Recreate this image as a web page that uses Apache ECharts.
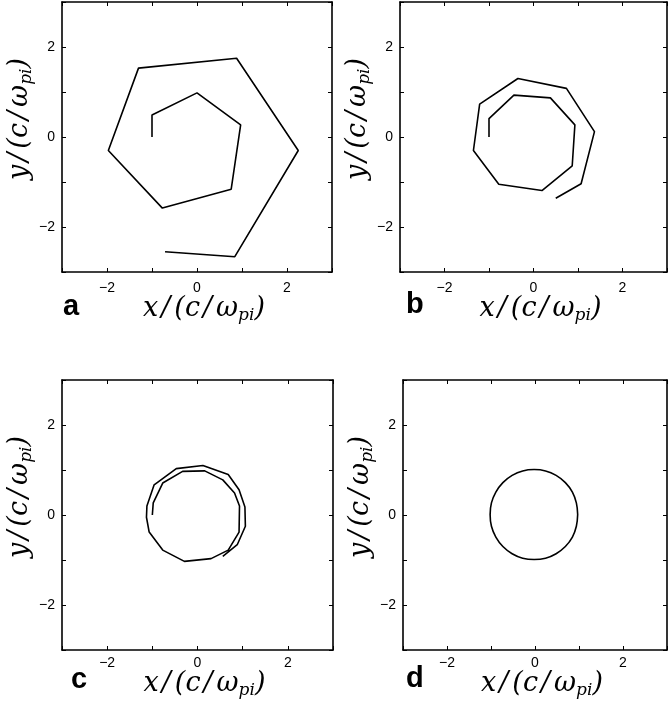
<!DOCTYPE html>
<html>
<head>
<meta charset="utf-8">
<script src="https://cdn.jsdelivr.net/npm/echarts@6/dist/echarts.min.js"></script>
<style>
  html, body { margin: 0; padding: 0; background: #fff; }
  #fig { width: 670px; height: 704px; }
</style>
</head>
<body>
<div id="fig"></div>
<script>
// trajectories, in units of c/omega_pi
var aX = [-1.00, -1.00, 0.00, 0.97, 0.76, -0.77, -1.97, -1.30, 0.88, 2.25, 0.84, -0.71];
var aY = [0.00, 0.49, 0.98, 0.27, -1.16, -1.58, -0.30, 1.53, 1.75, -0.30, -2.66, -2.55];

var bX = [-1.00, -1.00, -0.44, 0.38, 0.93, 0.87, 0.19, -0.78, -1.35, -1.21, -0.35, 0.74, 1.37, 1.07, 0.50];
var bY = [0.00, 0.41, 0.93, 0.87, 0.27, -0.64, -1.19, -1.05, -0.30, 0.73, 1.30, 1.08, 0.12, -1.04, -1.36];

var cX = [-1.00, -0.98, -0.77, -0.33, 0.16, 0.56, 0.82, 0.93, 0.92, 0.68, 0.30, -0.29, -0.77, -1.07,
          -1.13, -1.12, -0.96, -0.47, 0.12, 0.68, 0.92, 1.05, 1.06, 0.88, 0.56];
var cY = [0.00, 0.27, 0.71, 0.97, 0.98, 0.78, 0.49, 0.20, -0.38, -0.78, -0.97, -1.03, -0.78, -0.38,
          -0.05, 0.20, 0.67, 1.03, 1.10, 0.90, 0.56, 0.18, -0.25, -0.66, -0.92];

var dX = [0.97, 0.94, 0.85, 0.69, 0.48, 0.24, -0.02, -0.28, -0.52, -0.73, -0.89, -0.99, -1.02,
          -0.99, -0.89, -0.73, -0.52, -0.28, -0.02, 0.24, 0.48, 0.69, 0.85, 0.94, 0.97];
var dY = [0.01, 0.27, 0.51, 0.72, 0.88, 0.98, 1.01, 0.98, 0.88, 0.72, 0.51, 0.27, 0.01,
          -0.25, -0.49, -0.70, -0.86, -0.96, -0.99, -0.96, -0.86, -0.70, -0.49, -0.25, 0.01];

var tickLabels = { '-2': '\u22122', '0': '0', '2': '2' };
var panelLetters = ['a', 'b', 'c', 'd'];

function zip(xs, ys) {
  return xs.map(function (x, i) { return [x, ys[i]]; });
}

var myChart = echarts.init(document.getElementById('fig'), null, { renderer: 'canvas' });

var grids = [
  { left: 62, top: 2, width: 270, height: 270 },
  { left: 400, top: 2, width: 269, height: 270 },
  { left: 62, top: 380, width: 271, height: 270 },
  { left: 403, top: 380, width: 270, height: 270 }
];

var nameRich = {
  i: { fontFamily: 'DejaVu Serif', fontStyle: 'italic', fontSize: 27, color: '#000' },
  sl: { fontFamily: 'DejaVu Serif', fontStyle: 'italic', fontSize: 27, color: '#000', padding: [0, 4, 0, 3] },
  s: { fontFamily: 'DejaVu Serif', fontStyle: 'italic', fontSize: 17, color: '#000', padding: [13, 0, 0, 0] }
};

var line = { show: true, onZero: false, lineStyle: { color: '#000', width: 1.6 } };
var tick = { show: true, inside: true, length: 4, lineStyle: { color: '#000', width: 1 } };

function labelFmt(v) {
  return tickLabels[String(v)] || '';
}

var xAxes = [], yAxes = [];
grids.forEach(function (g, i) {
  xAxes.push({
    type: 'value', gridIndex: i, position: 'bottom', min: -3, max: 3, interval: 1,
    axisLine: line, axisTick: tick, splitLine: { show: false },
    axisLabel: { formatter: labelFmt, color: '#000', fontFamily: 'Liberation Sans', fontSize: 14, margin: i < 2 ? 9 : 6 },
    name: '{i|x}{sl|/}{i|(c}{sl|/}{i|ω}{s|pi}{i|)}', nameLocation: 'middle', nameGap: i < 2 ? 18 : 15,
    nameTextStyle: { rich: nameRich, padding: [0, 0, 0, 14] }
  });
  xAxes.push({
    type: 'value', gridIndex: i, position: 'top', min: -3, max: 3, interval: 1,
    axisLine: line, axisTick: tick, splitLine: { show: false }, axisLabel: { show: false }
  });
  yAxes.push({
    type: 'value', gridIndex: i, position: 'left', min: -3, max: 3, interval: 1,
    axisLine: line, axisTick: tick, splitLine: { show: false },
    axisLabel: { formatter: labelFmt, color: '#000', fontFamily: 'Liberation Sans', fontSize: 14, margin: 7 },
    name: '{i|y}{sl|/}{i|(c}{sl|/}{i|ω}{s|pi}{i|)}', nameLocation: 'middle', nameGap: 17,
    nameTextStyle: { rich: nameRich, padding: [0, 0, 0, 36] }
  });
  yAxes.push({
    type: 'value', gridIndex: i, position: 'right', min: -3, max: 3, interval: 1,
    axisLine: line, axisTick: tick, splitLine: { show: false }, axisLabel: { show: false }
  });
});

var paths = [zip(aX, aY), zip(bX, bY), zip(cX, cY), zip(dX, dY)];
var series = paths.map(function (p, i) {
  return {
    type: 'line', xAxisIndex: i * 2, yAxisIndex: i * 2, data: p,
    showSymbol: false, smooth: i === 3 ? 0.4 : false,
    lineStyle: { color: '#000', width: 1.6 }
  };
});

var letterPos = [[63, 292], [406, 290], [71, 665], [406, 664]];
var graphic = panelLetters.map(function (t, i) {
  return {
    type: 'text', left: letterPos[i][0], top: letterPos[i][1],
    style: { text: t, fontFamily: 'Liberation Sans', fontWeight: 'bold', fontSize: 29, fill: '#000' }
  };
});

var option = {
  animation: false,
  backgroundColor: '#fff',
  grid: grids,
  xAxis: xAxes,
  yAxis: yAxes,
  graphic: graphic,
  series: series
};

myChart.setOption(option);
</script>
</body>
</html>
